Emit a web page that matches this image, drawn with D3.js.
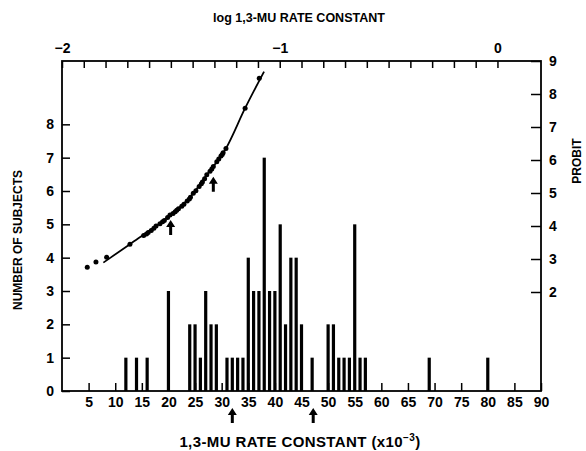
<!DOCTYPE html>
<html>
<head>
<meta charset="utf-8">
<script src="https://cdn.jsdelivr.net/npm/d3@7"></script>
<style>
  body { margin: 0; background: #fff; }
  svg { display: block; font-family: "Liberation Sans", Arial, Helvetica, sans-serif; font-weight: bold; }
</style>
</head>
<body>
<svg id="chart"></svg>
<script>
// histogram: 1,3-MU rate constant (x10^-3) vs number of subjects
const rateValues = [12, 14, 16, 20, 24, 25, 26, 27, 28, 29, 31, 32, 33, 34, 35, 36, 37, 38, 39, 40, 41, 42, 43, 44, 45, 47, 50, 51, 52, 53, 54, 55, 56, 57, 69, 80];
const subjectCounts = [1, 1, 1, 3, 2, 2, 1, 3, 2, 2, 1, 1, 1, 1, 4, 3, 3, 7, 3, 3, 5, 2, 4, 4, 2, 1, 2, 2, 1, 1, 1, 5, 1, 1, 1, 1];

// probit plot points (top log axis / right probit axis)
const dotLogRate = [-1.884, -1.844, -1.795, -1.688, -1.625, -1.612, -1.604, -1.59, -1.578, -1.568, -1.55, -1.538, -1.53, -1.515, -1.504, -1.49, -1.48, -1.473, -1.465, -1.45, -1.44, -1.425, -1.415, -1.41, -1.397, -1.385, -1.37, -1.36, -1.355, -1.345, -1.335, -1.32, -1.312, -1.305, -1.289, -1.28, -1.27, -1.264, -1.26, -1.247, -1.159, -1.094];
const dotProbit = [2.75, 2.91, 3.05, 3.45, 3.71, 3.76, 3.80, 3.86, 3.93, 4.0, 4.07, 4.13, 4.17, 4.26, 4.33, 4.38, 4.43, 4.48, 4.52, 4.6, 4.66, 4.76, 4.82, 4.87, 4.99, 5.07, 5.2, 5.28, 5.33, 5.43, 5.55, 5.66, 5.73, 5.8, 5.95, 6.03, 6.12, 6.17, 6.22, 6.35, 7.57, 8.48];

// fitted probit curve
const fitLogRate = [-1.81, -1.688, -1.568, -1.473, -1.397, -1.335, -1.247, -1.159, -1.072];
const fitProbit = [2.89, 3.45, 4.0, 4.48, 4.99, 5.55, 6.35, 7.57, 8.68];

// arrow markers
const curveArrowLog = [-1.501, -1.305];
const curveArrowProbit = [4.18, 5.49];
const axisArrowRate = [32, 47.2];

const bottomTicks = d3.range(5, 95, 5);
const leftTicks = d3.range(0, 9);
const rightTicks = d3.range(2, 10);
const topTicks = d3.range(-20, 1).map(d => d / 10);

const W = 586, H = 451;
const frame = { left: 62, right: 541, top: 61, bottom: 391 };

const svg = d3.select("#chart").attr("width", W).attr("height", H);
svg.append("rect").attr("width", W).attr("height", H).attr("fill", "#fff");

const x = d3.scaleLinear().domain([0, 90]).range([frame.left, frame.right]);
const xLog = d3.scaleLinear().domain([-2, 0.2]).range([frame.left, frame.right]);
const y = d3.scaleLinear().domain([0, 9.9]).range([frame.bottom, frame.top]);
const yProbit = d3.scaleLinear().domain([-1, 9]).range([frame.bottom, frame.top]);

// shared axis styling
const styleAxis = g => {
  g.attr("font-family", null).attr("font-size", 14);
  g.select(".domain").remove();
  g.selectAll(".tick line").attr("stroke", "#000").attr("stroke-width", 1.5);
  g.selectAll(".tick text").attr("fill", "#000");
};

svg.append("g").attr("transform", `translate(0,${frame.bottom})`)
  .call(d3.axisBottom(x).tickValues(bottomTicks).tickSizeInner(-8).tickSizeOuter(0).tickPadding(6))
  .call(styleAxis);

svg.append("g").attr("transform", `translate(${frame.left},0)`)
  .call(d3.axisLeft(y).tickValues(leftTicks).tickSizeInner(-8).tickSizeOuter(0).tickPadding(8))
  .call(styleAxis);

svg.append("g").attr("transform", `translate(${frame.right},0)`)
  .call(d3.axisRight(yProbit).tickValues(rightTicks).tickSizeInner(-10).tickSizeOuter(0).tickPadding(8))
  .call(styleAxis);

const intFmt = d3.format("d");
svg.append("g").attr("transform", `translate(0,${frame.top})`)
  .call(d3.axisTop(xLog).tickValues(topTicks).tickSizeInner(-7).tickSizeOuter(0).tickPadding(8)
    .tickFormat(d => Math.abs(d - Math.round(d)) < 1e-9 ? intFmt(Math.round(d)) : ""))
  .call(styleAxis);

// frame
svg.append("rect")
  .attr("x", frame.left).attr("y", frame.top)
  .attr("width", frame.right - frame.left).attr("height", frame.bottom - frame.top)
  .attr("fill", "none").attr("stroke", "#000").attr("stroke-width", 1.8);

// bars
svg.append("g").selectAll("rect")
  .data(d3.zip(rateValues, subjectCounts))
  .join("rect")
  .attr("x", d => x(d[0]) - 1.6)
  .attr("width", 3.2)
  .attr("y", d => y(d[1]))
  .attr("height", d => y(0) - y(d[1]))
  .attr("fill", "#000");

// fitted line + points
const line = d3.line().x(d => xLog(d[0])).y(d => yProbit(d[1])).curve(d3.curveMonotoneX);
svg.append("path")
  .datum(d3.zip(fitLogRate, fitProbit))
  .attr("d", line)
  .attr("fill", "none").attr("stroke", "#000").attr("stroke-width", 1.8);

svg.append("g").selectAll("circle")
  .data(d3.zip(dotLogRate, dotProbit))
  .join("circle")
  .attr("cx", d => xLog(d[0]))
  .attr("cy", d => yProbit(d[1]))
  .attr("r", 2.5)
  .attr("fill", "#000");

// up arrows
const arrowPath = (cx, tip) => `M${cx},${tip} l-4.5,7 h3 v8 h3 v-8 h3 z`;
svg.append("g").selectAll("path")
  .data(d3.zip(curveArrowLog, curveArrowProbit))
  .join("path")
  .attr("d", d => arrowPath(xLog(d[0]), yProbit(d[1])))
  .attr("fill", "#000");
svg.append("g").selectAll("path")
  .data(axisArrowRate)
  .join("path")
  .attr("d", d => arrowPath(x(d), frame.bottom + 17))
  .attr("fill", "#000");

// titles
svg.append("text").attr("x", 299).attr("y", 22).attr("text-anchor", "middle")
  .attr("font-size", 12.5).text("log 1,3-MU RATE CONSTANT");

const bt = svg.append("text").attr("x", 300).attr("y", 447).attr("text-anchor", "middle")
  .attr("font-size", 15).attr("letter-spacing", 0.4);
bt.append("tspan").text("1,3-MU RATE CONSTANT (x10");
bt.append("tspan").attr("font-size", 10).attr("dy", -6).text("\u22123");
bt.append("tspan").attr("dy", 6).text(")");

svg.append("text").attr("transform", "translate(22,240) rotate(-90)").attr("text-anchor", "middle")
  .attr("font-size", 12).text("NUMBER OF SUBJECTS");

svg.append("text").attr("transform", "translate(581,161) rotate(-90)").attr("text-anchor", "middle")
  .attr("font-size", 12).text("PROBIT");
</script>
</body>
</html>
